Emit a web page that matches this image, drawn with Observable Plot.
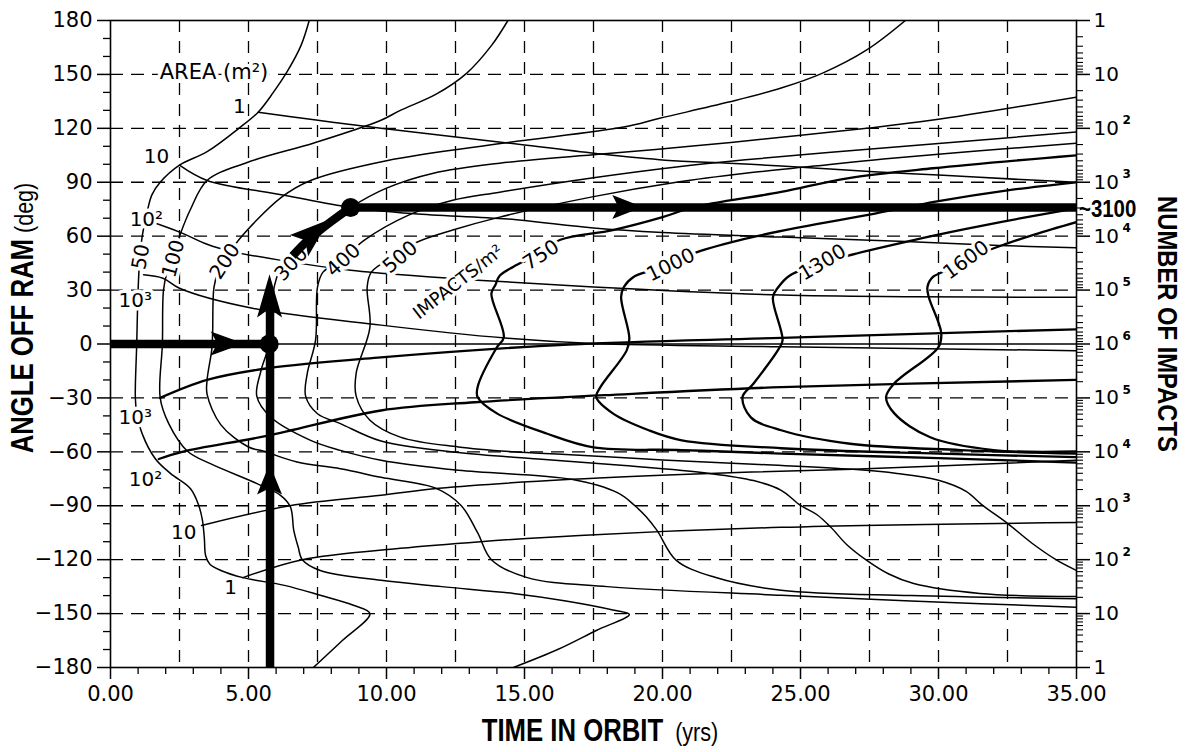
<!DOCTYPE html>
<html><head><meta charset="utf-8">
<script src="https://cdn.jsdelivr.net/npm/d3@7"></script>
<script src="https://cdn.jsdelivr.net/npm/@observablehq/plot@0.6"></script>
<style>
html,body{margin:0;padding:0;background:#fff;}
#chart{width:1187px;height:752px;}
</style></head><body><div id="chart"></div>
<script>
// ---------- impacts / m^2 contour curves [years, degrees] ----------
const impacts50 = [[7.35,-180],[8.4,-165],[9.4,-150],[8.8,-145.4],[7.6,-139.8],[6.3,-134.3],[4.8,-130],[4.0,-126],[3.6,-122.5],[3.45,-118],[3.4,-108],[3.33,-98],[3.2,-90],[2.9,-80.5],[2.17,-72],[1.63,-64],[1.15,-50],[0.95,-38],[0.9,-30],[0.95,0],[1.0,30],[1.05,45],[1.15,60],[1.35,75],[1.5,83],[1.8,90],[2.5,99.5],[3.5,107],[4.65,120],[5.35,129],[5.9,140],[6.4,151.5],[6.9,166],[7.2,180]];
const impacts100 = [[14.6,-180],[16.2,-170],[17.6,-159.4],[18.8,-150.5],[18.2,-148],[16.5,-143],[14.6,-138.8],[12,-135],[9.8,-131.5],[7.6,-126],[6.95,-120],[6.8,-113],[6.64,-103.7],[6.52,-90.7],[6.16,-84.2],[5.31,-77.7],[3.62,-66.6],[2.78,-59.5],[2.11,-44.3],[1.8,-30],[1.88,0],[1.92,30],[2.05,40],[2.3,50],[2.55,62],[2.9,75],[3.5,91],[4.95,101],[7.4,112],[9.8,124.5],[10.5,130],[11.8,139],[12.9,150.6],[13.8,166],[14.4,180]];
const impacts200 = [[35,-146.5],[29,-143],[24.3,-139.8],[18,-135],[15.1,-130],[13.8,-120],[13.3,-105],[12.7,-89.8],[11.8,-80.3],[9.8,-74.2],[8.33,-69.4],[6.76,-65.7],[5.56,-59.7],[5.0,-57.3],[4.0,-45],[3.5,-28],[3.5,-20],[3.67,-3],[3.7,6],[3.75,31.7],[3.9,40],[4.3,50],[4.65,58],[6.2,81.7],[7.25,91],[10,102],[14.2,111.7],[18.6,120.7],[19.9,125.6],[22.4,134.6],[24.3,142.4],[25.8,150.7],[27.4,163.6],[28.8,180]];
const impacts300 = [[35,-141.7],[29,-140],[24.3,-137],[21.9,-129.8],[20.5,-120.4],[19.8,-103.7],[19.4,-96],[19,-90],[18.4,-83],[16.7,-75.3],[12.6,-70.3],[9.8,-64.7],[8.33,-59.2],[7.25,-53.6],[5.8,-40.6],[5.3,-29],[5.45,-15],[5.75,0],[5.85,20],[5.95,33],[6.25,45],[7.0,57],[7.6,64],[8.7,76],[10,86.7],[11.7,95],[14.1,100.6],[17.8,105.7],[21,110],[24.3,115],[27.4,120],[29.8,124.6],[35,137.4]];
const impacts400 = [[35,-140.5],[31.5,-138.8],[29.1,-133.3],[28.2,-128],[27.4,-120.4],[26.7,-112],[26.1,-102],[25.6,-95],[25,-89.8],[24.3,-81.4],[23.3,-76],[21.7,-72],[18.5,-67.5],[15.5,-64],[12.6,-60.4],[9.8,-54],[8.33,-44.3],[7.5,-38.8],[7.07,-29],[7.13,-16.3],[7.43,2.2],[7.5,31.7],[7.7,40],[8.4,47],[9.2,57.8],[10.8,71.7],[12.4,80],[14.1,84.5],[17.5,92.5],[20.5,98.5],[23,102.5],[26,106.5],[30,111.5],[35,118]];
const impacts500 = [[35,-126],[34.3,-120.4],[33.4,-111],[32.5,-99.8],[31.6,-89.8],[31,-82],[30,-75.8],[28.5,-72],[26.9,-69.7],[23.5,-67],[20,-64.5],[16.5,-61.5],[14.6,-60],[12.6,-57.3],[10.5,-51.8],[9.4,-42.4],[8.9,-29],[8.9,-16.3],[9.4,9.4],[9.3,31.7],[9.45,40],[10.3,49],[11.1,56.6],[12.4,63.4],[14.1,70.6],[17.5,82],[20.5,90],[23,95],[25.5,99],[28,103],[31.5,107.5],[35,111.7]];
const impacts750 = [[35,-66],[30,-63.5],[24.3,-61],[20.7,-59],[17.5,-57.5],[15.8,-49.8],[14.0,-38.6],[13.3,-29.5],[13.3,-24],[14.0,-1.8],[14.25,3.7],[13.8,28],[13.95,33],[14.1,38],[14.6,43],[15.5,50],[16.3,58],[18.2,63.4],[20,70.6],[21.1,76],[24.3,84.6],[26.7,92.2],[29.8,97.8],[35,105]];
const impacts1000 = [[35,-63],[30,-61],[24.3,-58],[20.7,-53.6],[19.5,-48],[18.2,-38.6],[17.6,-29.5],[17.75,-24],[18.7,-3.7],[18.8,3],[18.5,26],[18.6,31.7],[18.95,37.3],[19.6,41],[20.4,45],[21.1,50.3],[22.8,57.8],[25,65],[27.5,72],[30,79.5],[32.5,85.5],[35,90]];
const impacts1300 = [[35,-61],[30.8,-59],[26.8,-55.5],[24.3,-48],[23.2,-40.8],[22.9,-29.5],[23.3,-22],[24.2,-3],[24.35,2],[24.0,26],[24.2,31.7],[24.6,38],[25.4,43],[26.3,47],[26.7,49],[29.1,57.8],[31,64],[33,70],[35,75.5]];
const impacts1600 = [[35,-59.8],[32,-59],[29.7,-51.9],[28.4,-38.6],[28.1,-29.5],[28.4,-21.9],[30,-1.7],[30.1,6.1],[29.65,26],[29.6,31.7],[29.8,37.3],[30.5,42],[31.2,47],[31.8,52],[32.5,56],[33.5,61],[35,67.8]];

// ---------- constant-area lines [years, degrees] ----------
const area1Upper = [[5.35,129],[7.45,124.6],[9.8,120],[14.3,112],[17.6,106],[20.1,102.3],[22.4,100.6],[24.3,99],[27.5,96],[30,94],[33,91.5],[35,90]];
const area10Upper = [[2.5,99.5],[3.5,91],[6.3,82.8],[8.7,76],[11,72.5],[14.4,69.5],[17.5,64.5],[20,62],[24.3,59.5],[28.8,57],[32.2,54.8],[35,53.5]];
const area100Upper = [[1.3,69],[2.55,62],[3.5,55.5],[4.4,51.5],[6.5,45.7],[8.7,41],[9.8,39.4],[11.6,37.3],[13.3,35.5],[17.5,31.7],[24.3,27.2],[29,26.3],[35,26]];
const area1000Upper = [[1.2,38.5],[1.9,36.6],[2.5,31],[5.1,20],[9.8,10.5],[14.3,3.3],[17.5,0.3],[24.3,-1.5],[35,-3.7]];
const area1Lower = [[4.8,-130],[6.95,-120],[10.5,-113.7],[13.4,-110],[17,-106.5],[24.3,-102],[35,-99.3]];
const area10Lower = [[3.3,-101],[6.5,-90],[9.8,-84.2],[11.9,-80.3],[16.7,-75.3],[21.7,-72],[26.9,-69.7],[35,-64.7]];
const area100Lower = [[1.75,-64],[2.6,-60],[5.7,-51],[9.8,-37],[13.2,-32.4],[17.9,-28.5],[24.3,-24],[35,-20]];
const area1000Lower = [[1.8,-30],[3.5,-20],[5.7,-13.5],[9.8,-7.4],[16.6,-0.3],[24.3,3.4],[35,8.2]];

// ---------- worked-example path ----------
const pathIn = [[0,0],[5.75,0]];
const pathUp = [[5.78,-180],[5.78,30]];
const pathAlong = [[6.6,49],[7.0,55.5],[7.6,63.5],[8.2,70.5],[8.7,76]];
const pathOut = [[8.7,76],[35,76]];
const pathDots = [[5.75,0],[8.7,76]];
const arrowHeads = [
  {tip:[4.85,0], base:[3.65,0], half:12},
  {tip:[5.78,38.5], base:[5.78,14.5], half:12.5},
  {tip:[5.78,-67], base:[5.78,-84], half:12.5},
  {tip:[7.95,69], base:[6.85,54.5], half:14},
  {tip:[19.3,76], base:[18.2,76], half:12}
];
const resultLabel = "~3100";
const resultAngle = 76;

// ---------- labels ----------
const curveLabels = [
  {t:"50", x:1.1, y:48.5, r:-80},
  {t:"100", x:2.28, y:47.5, r:-75},
  {t:"200", x:4.15, y:46, r:-57},
  {t:"300", x:6.55, y:44.5, r:-47},
  {t:"400", x:8.44, y:46.7, r:-43},
  {t:"500", x:10.5, y:48.3, r:-40},
  {t:"750", x:15.6, y:49.5, r:-33},
  {t:"1000", x:20.3, y:44, r:-26},
  {t:"1300", x:25.8, y:45.4, r:-31},
  {t:"1600", x:31.0, y:46.7, r:-36}
];
const areaLabels = [
  {t:"1", x:4.67, y:132}, {t:"10", x:1.67, y:104}, {t:"10²", x:1.3, y:69}, {t:"10³", x:0.9, y:24.4},
  {t:"10³", x:0.9, y:-40.7}, {t:"10²", x:1.27, y:-75.3}, {t:"10", x:2.65, y:-104.8}, {t:"1", x:4.35, y:-135.4}
];
const areaTitle = {t:"AREA (m²)", x:3.75, y:151};
const impactsTitle = {t:"IMPACTS/m²", x:12.6, y:34.5, r:-38};

// ---------- axes ----------
const xTicks = [0,5,10,15,20,25,30,35];
const xTickLabels = ["0.00","5.00","10.00","15.00","20.00","25.00","30.00","35.00"];
const xMinor = [1,2,3,4,6,7,8,9,11,12,13,14,16,17,18,19,21,22,23,24,26,27,28,29,31,32,33,34];
const yTicks = [180,150,120,90,60,30,0,-30,-60,-90,-120,-150,-180];
const yTickLabels = ["180","150","120","90","60","30","0","−30","−60","−90","−120","−150","−180"];
const yMinor = [170,160,140,130,110,100,80,70,50,40,20,10,-10,-20,-40,-50,-70,-80,-100,-110,-130,-140,-160,-170];
const gridYears = [2.5,5,7.5,10,12.5,15,17.5,20,22.5,25,27.5,30,32.5];
const gridAngles = [150,120,90,60,30,-30,-60,-90,-120,-150];
const rightBase = ["1","10","10","10","10","10","10","10","10","10","10","10","1"];
const rightExp = ["","","2","3","4","5","6","5","4","3","2","",""];
const decades = [1,10,100,1000,10000,100000];
const multipliers = [1,2,3,4,5,6,7,8,9];

// ---------- build tables ----------
const rows = obj => Object.entries(obj).flatMap(([k, pts]) => pts.map(([x, y]) => ({k, x, y})));
const thinRows = rows({impacts50, impacts100, impacts200, impacts300, impacts400, impacts500,
  area1Upper, area10Upper, area100Upper, area1000Upper, area1Lower, area10Lower});
const boldRows = rows({impacts750, impacts1000, impacts1300, impacts1600, area100Lower, area1000Lower});
const thickRows = rows({pathIn, pathUp, pathAlong, pathOut});

const degPerPx = 360 / 647, yrsPerPx = 35 / 966;
const rightMajor = [], rightMinor = [];
for (const d of decades) for (const m of multipliers) {
  const lg = Math.log10(d * m);
  (m === 1 ? rightMajor : rightMinor).push(180 - 30 * lg, -180 + 30 * lg);
}
rightMajor.push(0);
const yTickRows = yTicks.map((v, i) => ({v, label: yTickLabels[i], base: rightBase[i], exp: rightExp[i]}));
const xTickRows = xTicks.map((v, i) => ({v, label: xTickLabels[i]}));
const X = d => d[0], Y = d => d[1];
const halo = {fill: "#000", stroke: "#fff", strokeWidth: 7};

const plot = Plot.plot({
  width: 1187, height: 752,
  marginLeft: 110, marginRight: 111, marginTop: 20, marginBottom: 85,
  x: {domain: [0, 35], axis: null},
  y: {domain: [-180, 180], axis: null},
  style: {fontFamily: "'DejaVu Sans', sans-serif", background: "#fff", color: "#000"},
  marks: [
    Plot.ruleX(gridYears, {x: d => d, stroke: "#000", strokeWidth: 1.3, strokeDasharray: "12,9"}),
    Plot.ruleY(gridAngles, {y: d => d, stroke: "#000", strokeWidth: 1.3, strokeDasharray: "13,8"}),
    Plot.ruleY([0], {y: d => d, stroke: "#000", strokeWidth: 1.4}),
    Plot.line(thinRows, {x: "x", y: "y", z: "k", stroke: "#000", strokeWidth: 1.5, curve: "catmull-rom", clip: true}),
    Plot.line(boldRows, {x: "x", y: "y", z: "k", stroke: "#000", strokeWidth: 2.3, curve: "catmull-rom", clip: true}),
    Plot.text(curveLabels, {x: "x", y: "y", text: "t", rotate: "r", fontSize: 20, ...halo}),
    Plot.text(areaLabels, {x: "x", y: "y", text: "t", fontSize: 20, ...halo}),
    Plot.text([areaTitle], {x: "x", y: "y", text: "t", fontSize: 21, ...halo}),
    Plot.text([impactsTitle], {x: "x", y: "y", text: "t", rotate: "r", fontSize: 18, ...halo}),
    Plot.line(thickRows, {x: "x", y: "y", z: "k", stroke: "#000", strokeWidth: 8.5, curve: "catmull-rom", strokeLinecap: "butt"}),
    Plot.dot(pathDots, {x: X, y: Y, r: 9.5, fill: "#000"}),
    Plot.frame({stroke: "#000", strokeWidth: 1.6}),
    // left axis ticks
    Plot.ruleY(yTicks, {y: d => d, x1: 0, x2: -13 * yrsPerPx, stroke: "#000", strokeWidth: 1.5}),
    Plot.ruleY(yMinor, {y: d => d, x1: 0, x2: -7 * yrsPerPx, stroke: "#000", strokeWidth: 1.3}),
    Plot.text(yTickRows, {x: 0, y: "v", text: "label", dx: -18, textAnchor: "end", fontSize: 21}),
    // bottom axis ticks
    Plot.ruleX(xTicks, {x: d => d, y1: -180, y2: -180 - 12 * degPerPx, stroke: "#000", strokeWidth: 1.5}),
    Plot.ruleX(xMinor, {x: d => d, y1: -180, y2: -180 - 7 * degPerPx, stroke: "#000", strokeWidth: 1.3}),
    Plot.text(xTickRows, {x: "v", y: -180, text: "label", dy: 27, fontSize: 21}),
    // right log axis
    Plot.ruleY(rightMajor, {y: d => d, x1: 35, x2: 35 + 14 * yrsPerPx, stroke: "#000", strokeWidth: 1.5}),
    Plot.ruleY(rightMinor, {y: d => d, x1: 35, x2: 35 + 7 * yrsPerPx, stroke: "#000", strokeWidth: 1.1}),
    Plot.text(yTickRows, {x: 35, y: "v", text: "base", dx: 17, textAnchor: "start", fontSize: 20}),
    Plot.text(yTickRows, {x: 35, y: "v", text: "exp", dx: 46, dy: -8, textAnchor: "start", fontSize: 12, fontWeight: "bold"})
  ]
});

const svg = d3.select(plot);
svg.selectAll("text").attr("paint-order", "stroke").attr("stroke-linejoin", "round");

// arrowheads and result label placed through the plot's own scales
const sx = plot.scale("x"), sy = plot.scale("y");
const heads = svg.append("g").attr("fill", "#000");
for (const h of arrowHeads) {
  const tx = sx.apply(h.tip[0]), ty = sy.apply(h.tip[1]);
  const bx = sx.apply(h.base[0]), by = sy.apply(h.base[1]);
  const dx = tx - bx, dy = ty - by, L = Math.hypot(dx, dy), ux = dx / L, uy = dy / L, px = -uy, py = ux;
  const nx = bx + ux * L * 0.2, ny = by + uy * L * 0.2, w = h.half;
  heads.append("path").attr("d", `M${tx},${ty}L${bx + px * w},${by + py * w}L${nx},${ny}L${bx - px * w},${by - py * w}Z`);
}

const narrow = "'Liberation Sans Narrow','Liberation Sans',Arial,sans-serif";
svg.append("text")
  .attr("transform", `translate(${sx.apply(35) + 3},${sy.apply(resultAngle) + 1}) scale(0.85,1)`)
  .attr("text-anchor", "start").attr("dy", "0.36em").attr("font-family", narrow).attr("font-weight", "bold").attr("font-size", 24)
  .attr("fill", "#000").text(resultLabel);

// axis titles
const t1 = svg.append("text").attr("transform", "translate(33,318) rotate(-90) scale(0.83,1)").attr("text-anchor", "middle")
  .attr("font-family", narrow).attr("fill", "#000");
t1.append("tspan").attr("font-weight", "bold").attr("font-size", 31).text("ANGLE OFF RAM");
t1.append("tspan").attr("font-size", 26).text(" (deg)");
const t2 = svg.append("text").attr("transform", "translate(600,741) scale(0.83,1)").attr("text-anchor", "middle")
  .attr("font-family", narrow).attr("fill", "#000");
t2.append("tspan").attr("font-weight", "bold").attr("font-size", 31).text("TIME IN ORBIT");
t2.append("tspan").attr("font-size", 26).text("  (yrs)");
svg.append("text").attr("transform", "translate(1158,324) rotate(90) scale(0.85,1)").attr("text-anchor", "middle")
  .attr("font-family", narrow).attr("font-weight", "bold").attr("font-size", 28).attr("fill", "#000")
  .text("NUMBER OF IMPACTS");

document.getElementById("chart").appendChild(plot);
</script></body></html>
